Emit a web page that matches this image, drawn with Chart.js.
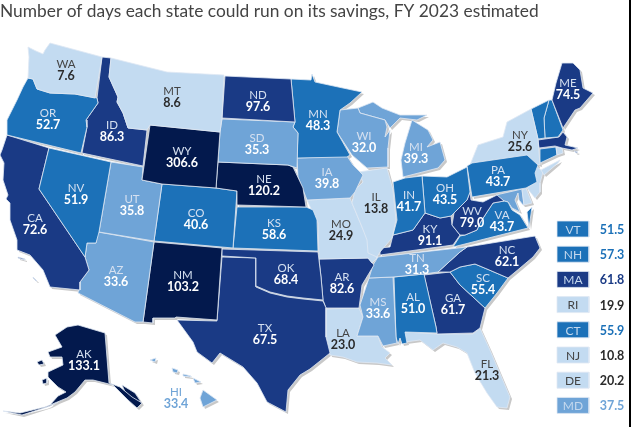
<!DOCTYPE html>
<html>
<head>
<meta charset="utf-8">
<script src="https://cdn.jsdelivr.net/npm/chart.js@4"></script>
<style>
  html, body { margin: 0; padding: 0; background: #000; height: 100%; overflow: hidden; }
  canvas { display: block; background: #fff; }
</style>
</head>
<body>
<canvas id="map" width="629" height="427"></canvas>
<script>
const titleText = 'Number of days each state could run on its savings, FY 2023 estimated';

const states = ['WA','MT','OR','ID','ND','WY','SD','NE','NV','UT','CA','CO','KS','AZ','NM','OK','TX','AK','HI','MN','WI','MI','IA','IL','IN','OH','PA','NY','ME','WV','KY','VA','MO','AR','TN','NC','SC','MS','AL','GA','LA','FL','VT','NH','MA','RI','CT','NJ','DE','MD'];
const days = [7.6,8.6,52.7,86.3,97.6,306.6,35.3,120.2,51.9,35.8,72.6,40.6,58.6,33.6,103.2,68.4,67.5,133.1,33.4,48.3,32.0,39.3,39.8,13.8,41.7,43.5,43.7,25.6,74.5,79.0,91.1,43.7,24.9,82.6,31.3,62.1,55.4,33.6,51.0,61.7,23.0,21.3,51.5,57.3,61.8,19.9,55.9,10.8,20.2,37.5];
const sideStates = ['VT','NH','MA','RI','CT','NJ','DE','MD'];

const binLimits = [30, 40, 60, 100, Infinity];
const binColors = ['#c3dbf1', '#6fa4d7', '#1c71b8', '#1a3a85', '#03194d'];

// state outlines in map units, flat x,y lists, one list per land piece
const outlines = {
  WA: [[28,47,36,51,43,54,45,50,50,43,102,57,95,98,75,94,50,93,37,89,33,79,28,78,29,57]],
  OR: [[28,78,33,79,37,89,50,93,75,94,97,98,98,103,86,120,87,127,81,153,7,135,7,120,17,100,23,87]],
  CA: [[7,135,49,148,39,189,85,257,89,270,80,282,80,290,50,287,43,270,30,255,17,250,17,240,10,220,10,203,6,199,8,195,3,180,4,163,0,155,2,150],[18,257,25,259,25,260,18,258],[33,277,37,281,36,281,33,278]],
  NV: [[49,148,111,162,99,232,96,243,87,243,85,257,39,189]],
  ID: [[102,57,111,58,109,77,118,97,117,102,123,113,128,128,147,130,143,166,82,153,87,127,86,120,98,103,97,98]],
  MT: [[111,58,167,72,224,75,222,118,220,132,150,125,147,130,128,128,123,113,117,102,118,97,109,77]],
  WY: [[150,125,220,132,216,188,162,184,142,180]],
  UT: [[111,162,143,167,142,180,162,184,154,241,99,232]],
  CO: [[162,184,216,188,237,191,233,248,154,241]],
  NM: [[154,242,222,248,217,320,176,317,175,318,153,318,153,323,143,322]],
  AZ: [[98,232,154,242,143,322,135,322,78,293,80,282,89,270,85,257,87,243,96,243]],
  ND: [[225,76,291,79,295,122,222,118]],
  SD: [[222,119,295,122,293,127,298,133,297,168,288,165,218,162,220,132]],
  NE: [[218,162,288,165,293,167,303,188,306,207,237,205,237,191,216,188]],
  KS: [[237,207,306,207,313,210,317,220,318,251,233,248]],
  OK: [[222,249,318,252,321,277,323,300,303,298,287,296,270,292,256,286,256,258,222,256]],
  TX: [[222,257,256,258,256,287,270,293,287,297,303,299,323,301,326,308,326,337,330,353,310,369,300,375,288,390,286,412,267,402,257,383,243,367,220,353,212,363,197,352,193,342,177,320,217,321]],
  AR: [[319,259,368,258,374,265,362,285,359,308,326,308,323,300,321,277]],
  LA: [[326,309,359,308,363,317,357,336,378,336,382,347,390,353,385,358,392,365,377,363,357,362,343,357,330,355,326,337]],
  MS: [[369,278,393,277,396,337,397,343,383,346,378,336,357,336,363,317,360,305]],
  AL: [[394,277,424,274,436,327,437,333,405,332,407,343,402,344,400,338,398,344,396,337]],
  GA: [[424,275,450,272,460,285,485,308,480,328,473,333,437,334,436,327]],
  FL: [[405,332,437,334,473,334,480,328,490,350,510,397,507,408,497,407,487,393,475,373,467,353,457,347,443,343,433,350,420,340,405,342]],
  SC: [[450,272,460,267,475,264,487,269,508,278,497,293,485,308,460,285]],
  NC: [[438,272,460,252,467,247,535,236,540,248,533,257,520,268,508,278,487,269,475,264,460,267,450,272]],
  TN: [[373,265,378,257,467,247,460,252,438,272,424,274,393,277,369,278]],
  KY: [[380,248,390,247,393,235,413,230,425,213,440,218,451,216,452,225,460,235,453,245,380,255]],
  WV: [[470,192,471,200,483,202,497,195,504,201,493,203,487,212,480,223,477,230,465,235,460,235,452,225,454,213,467,200]],
  VA: [[504,201,508,202,512,210,520,215,528,228,453,247,460,236,465,235,477,230,480,223,487,212,493,203],[527,212,532,207,529,228]],
  OH: [[422,176,447,177,467,167,470,192,467,200,454,213,451,216,440,218,425,213]],
  IN: [[393,182,405,178,422,176,425,213,413,230,393,235,397,220]],
  IL: [[358,172,387,168,393,190,396,220,392,238,380,252,377,257,368,253,367,240,362,227,352,203,355,190,363,182]],
  MO: [[307,200,350,198,352,203,362,227,368,240,377,250,377,258,372,263,368,258,319,259,318,223,313,213]],
  IA: [[297,158,347,156,353,165,363,175,355,192,350,198,307,200,298,177]],
  MN: [[291,79,311,80,312,74,315,82,343,88,362,92,350,103,340,110,337,132,350,155,347,157,297,158,298,133,293,127,295,122]],
  WI: [[340,110,358,108,360,113,385,120,387,127,385,137,390,130,388,148,388,167,367,168,352,155,337,132]],
  MI: [[358,108,373,102,382,108,400,115,427,115,417,120,400,118,390,128,385,120,360,113],[412,120,428,130,433,140,427,147,440,142,445,160,438,168,403,177,401,160,405,143]],
  PA: [[467,166,472,163,527,155,538,165,535,173,537,182,526,188,472,197]],
  NY: [[470,165,478,145,503,137,507,122,531,109,538,139,540,165,534,163,527,156,472,163],[541,170,560,160,558,163,544,175]],
  VT: [[531,109,549,100,544,118,545,138,538,139]],
  NH: [[549,100,552,100,563,130,558,137,545,138,544,118]],
  ME: [[552,100,556,83,562,63,573,63,580,70,583,88,593,93,580,108,575,110,563,128]],
  MA: [[538,140,559,137,563,132,567,137,565,145,578,148,572,150,562,148,555,146,539,148],[574,151,578,152,576,153]],
  CT: [[540,149,556,147,557,155,540,163]],
  RI: [[556,147,562,148,563,153,557,155]],
  NJ: [[533,163,543,172,540,183,540,192,535,198,527,188,536,182,534,173]],
  DE: [[522,190,526,188,532,203,524,205]],
  MD: [[496,195,522,189,524,205,523,205,519,200,518,193,515,200,520,212,512,208,508,202,504,201]],
  AK: [[55,335,67,327,78,325,105,333,109,383,120,387,132,397,142,403,137,408,128,400,113,385,93,380,85,380,75,392,67,398,50,405,58,396,66,392,58,387,48,377,48,372,63,365,62,357,50,357,48,352,62,347],[3,411,20,413,45,407,58,402,50,406,22,415],[37,362,42,360,44,364,39,365],[42,380,47,378,47,383,43,384],[122,385,135,393,141,402,137,404,126,394]],
  HI: [[203,390,217,400,203,407,200,398],[193,378,201,382,195,383],[172,368,178,370,177,373,173,372],[150,360,156,358,155,362],[183,374,191,376,191,377,183,376]]
};

// abbreviation position on the map, the value sits one line below
const labelAt = {
  WA:[66,63], MT:[172,90], OR:[48,112], ID:[112,124], ND:[258,94], WY:[182,150], SD:[257,137], NE:[264,178],
  NV:[76,187], UT:[132,198], CA:[35,217], CO:[196,212], KS:[274,222], AZ:[116,269], NM:[183,274], OK:[286,267],
  TX:[265,327], AK:[84,353], HI:[176,391], MN:[318,113], WI:[364,135], MI:[416,146], IA:[327,171], IL:[376,196],
  IN:[409,194], OH:[445,187], PA:[498,169], NY:[520,134], ME:[568,82], WV:[472,210], KY:[430,228], VA:[502,214],
  MO:[341,223], AR:[342,276], TN:[417,257], NC:[507,249], SC:[483,277], MS:[378,301], AL:[413,296], GA:[453,297],
  LA:[343,332], FL:[487,363]
};

const sideBoxLeft = 557, sideBoxRight = 589, sideFirstTop = 221, sideRowStep = 25.2, sideBoxHeight = 16;
const sideTextX = 573, sideValueX = 612;

const colorFor = v => binColors[binLimits.findIndex(l => v < l)];
const daysOf = s => days[states.indexOf(s)];
const toPoints = ring => {
  const pts = [];
  for (let i = 0; i < ring.length; i += 2) pts.push({ x: ring[i], y: ring[i + 1] });
  pts.push({ x: ring[0], y: ring[1] });
  return pts;
};

const datasets = [];
states.forEach((s, i) => {
  outlines[s].forEach(ring => {
    datasets.push({
      label: s,
      data: toPoints(ring),
      showLine: true,
      fill: 'shape',
      tension: 0,
      pointRadius: 0,
      borderWidth: 0.8,
      borderColor: '#dfe8f4',
      backgroundColor: colorFor(days[i])
    });
  });
});
sideStates.forEach((s, i) => {
  const top = sideFirstTop + i * sideRowStep, bottom = top + sideBoxHeight;
  datasets.push({
    label: s + ' box',
    data: toPoints([sideBoxLeft, top, sideBoxRight, top, sideBoxRight, bottom, sideBoxLeft, bottom]),
    showLine: true,
    fill: 'shape',
    tension: 0,
    pointRadius: 0,
    borderWidth: 0.8,
    borderColor: '#dfe8f4',
    backgroundColor: colorFor(daysOf(s))
  });
});

// grey offset copy of the land under the map
const coastShadow = {
  id: 'coastShadow',
  beforeDatasetsDraw(chart) {
    const { ctx, scales: { x, y } } = chart;
    ctx.save();
    ctx.fillStyle = '#c8c8c8';
    ctx.beginPath();
    Object.values(outlines).forEach(rings => rings.forEach(ring => {
      toPoints(ring).forEach((p, i) => {
        const px = x.getPixelForValue(p.x) + 2, py = y.getPixelForValue(p.y) + 2;
        if (i === 0) ctx.moveTo(px, py); else ctx.lineTo(px, py);
      });
      ctx.closePath();
    }));
    ctx.fill('nonzero');
    ctx.restore();
  }
};

const stateText = {
  id: 'stateText',
  afterDatasetsDraw(chart) {
    const { ctx, scales: { x, y } } = chart;
    ctx.save();
    ctx.textAlign = 'center';
    ctx.textBaseline = 'middle';
    const put = (text, px, py, font, color) => {
      ctx.font = font;
      ctx.fillStyle = color;
      ctx.fillText(text, x.getPixelForValue(px), y.getPixelForValue(py) + 1);
    };
    Object.keys(labelAt).forEach(s => {
      const v = daysOf(s), light = v < binLimits[0];
      const [lx, ly] = labelAt[s];
      const outside = s === 'HI';
      put(s, lx, ly, '11.5px Lato', outside ? '#6fa4d7' : light ? '#444' : '#d5e0f0');
      put(v.toFixed(1), lx, ly + 12, 'bold 12.5px Lato', outside ? '#6fa4d7' : light ? '#2b2b2b' : '#fff');
    });
    sideStates.forEach((s, i) => {
      const v = daysOf(s), light = v < binLimits[0];
      const mid = sideFirstTop + i * sideRowStep + sideBoxHeight / 2;
      put(s, sideTextX, mid, '12px Lato', light ? '#444' : '#c4d8ee');
      put(v.toFixed(1), sideValueX, mid, 'bold 12.5px Lato', light ? '#2b2b2b' : colorFor(v));
    });
    ctx.restore();
  }
};

new Chart(document.getElementById('map'), {
  type: 'scatter',
  data: { datasets },
  options: {
    responsive: false,
    animation: false,
    layout: { padding: 0 },
    events: [],
    scales: {
      x: { type: 'linear', display: false, min: 0, max: 629 },
      y: { type: 'linear', display: false, min: 28, max: 427, reverse: true }
    },
    plugins: {
      legend: { display: false },
      tooltip: { enabled: false },
      title: {
        display: true,
        text: titleText,
        align: 'start',
        color: '#444',
        font: { family: 'Lato', size: 17.35, weight: 'normal' },
        padding: { top: 0.5, bottom: 6.7 }
      }
    }
  },
  plugins: [coastShadow, stateText]
});
</script>
</body>
</html>
